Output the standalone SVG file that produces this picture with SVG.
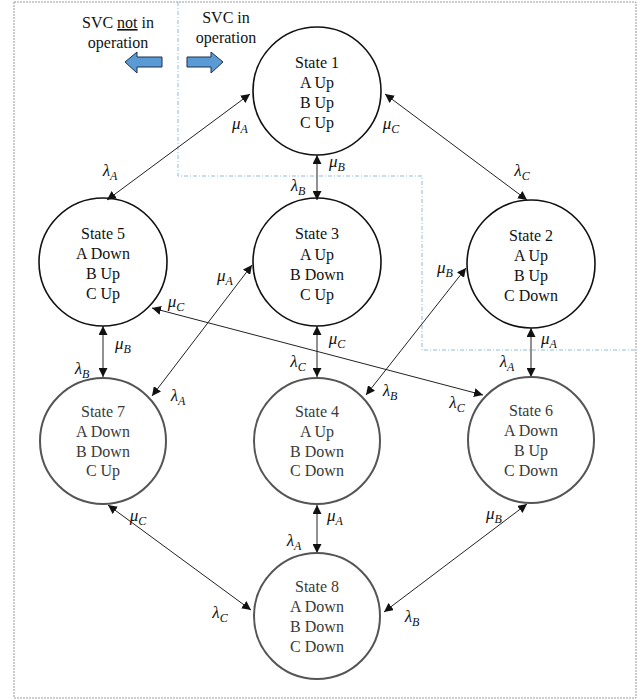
<svg xmlns="http://www.w3.org/2000/svg" width="644" height="700" viewBox="0 0 644 700">
<style>
.st{font-family:"Liberation Serif","Times New Roman",serif;font-size:16px;fill:#111;text-anchor:middle}
.lo{fill:#3a3a3a}
.c{fill:none;stroke:#111;stroke-width:1.6}
.cl{fill:none;stroke:#555;stroke-width:2}
.ln{stroke:#222;stroke-width:1;fill:none;marker-start:url(#ah);marker-end:url(#ah)}
.m{font-family:"Liberation Serif","DejaVu Serif",serif;font-style:italic;font-size:17px;fill:#111;text-anchor:middle}
.s{font-size:12px}
.hd{font-family:"Liberation Serif","Times New Roman",serif;font-size:16px;fill:#111;text-anchor:middle}
.blk{fill:#5B9BD5;stroke:#1f2f4f;stroke-width:1}
</style>
<defs>
<marker id="ah" viewBox="0 0 10 10" refX="10" refY="5" markerWidth="9" markerHeight="9" markerUnits="userSpaceOnUse" orient="auto-start-reverse">
<path d="M0,0 L10,5 L0,10 z" fill="#111"/>
</marker>
</defs>
<rect x="14" y="2" width="622" height="696" fill="none" stroke="#9a9a9a" stroke-width="1" stroke-dasharray="2 1"/>
<polyline points="178,2 178,176 422,176 422,350 636,350" fill="none" stroke="#8fbbe6" stroke-width="1" stroke-dasharray="4 2 1 2"/>
<g id="legend">
<text class="hd" x="118" y="28">SVC <tspan text-decoration="underline">not</tspan> in</text>
<text class="hd" x="118" y="48">operation</text>
<text class="hd" x="226" y="23">SVC in</text>
<text class="hd" x="226" y="43">operation</text>
<polygon class="blk" points="125,62 137,52 137,57 162,57 162,67 137,67 137,73"/>
<polygon class="blk" points="223,62 211,52 211,57 187,57 187,67 211,67 211,73"/>
</g>
<g id="connectors">
<line class="ln" x1="107" y1="200" x2="250" y2="94"/>
<line class="ln" x1="317" y1="200" x2="317" y2="155"/>
<line class="ln" x1="527" y1="200" x2="385" y2="94"/>
<line class="ln" x1="152" y1="396" x2="252" y2="265"/>
<line class="ln" x1="483" y1="395" x2="152" y2="308"/>
<line class="ln" x1="103" y1="377" x2="103" y2="326"/>
<line class="ln" x1="317" y1="377" x2="317" y2="326"/>
<line class="ln" x1="366" y1="395" x2="466" y2="268"/>
<line class="ln" x1="531" y1="377" x2="531" y2="328"/>
<line class="ln" x1="317" y1="553" x2="317" y2="505"/>
<line class="ln" x1="251" y1="610" x2="108" y2="505"/>
<line class="ln" x1="384" y1="612" x2="527" y2="504"/>
</g>
<g id="labels">
<text class="m" x="240" y="129">μ<tspan class="s" dy="4">A</tspan></text>
<text class="m" x="110" y="176">λ<tspan class="s" dy="4">A</tspan></text>
<text class="m" x="337" y="167">μ<tspan class="s" dy="4">B</tspan></text>
<text class="m" x="298" y="191">λ<tspan class="s" dy="4">B</tspan></text>
<text class="m" x="391" y="129">μ<tspan class="s" dy="4">C</tspan></text>
<text class="m" x="522" y="176">λ<tspan class="s" dy="4">C</tspan></text>
<text class="m" x="225" y="281">μ<tspan class="s" dy="4">A</tspan></text>
<text class="m" x="178" y="401">λ<tspan class="s" dy="4">A</tspan></text>
<text class="m" x="176" y="307">μ<tspan class="s" dy="4">C</tspan></text>
<text class="m" x="457" y="408">λ<tspan class="s" dy="4">C</tspan></text>
<text class="m" x="123" y="349">μ<tspan class="s" dy="4">B</tspan></text>
<text class="m" x="82" y="374">λ<tspan class="s" dy="4">B</tspan></text>
<text class="m" x="337" y="344">μ<tspan class="s" dy="4">C</tspan></text>
<text class="m" x="298" y="367">λ<tspan class="s" dy="4">C</tspan></text>
<text class="m" x="445" y="273">μ<tspan class="s" dy="4">B</tspan></text>
<text class="m" x="390" y="396">λ<tspan class="s" dy="4">B</tspan></text>
<text class="m" x="549" y="344">μ<tspan class="s" dy="4">A</tspan></text>
<text class="m" x="507" y="367">λ<tspan class="s" dy="4">A</tspan></text>
<text class="m" x="335" y="521" fill="#444">μ<tspan class="s" dy="4">A</tspan></text>
<text class="m" x="294" y="546" fill="#444">λ<tspan class="s" dy="4">A</tspan></text>
<text class="m" x="138" y="521" fill="#444">μ<tspan class="s" dy="4">C</tspan></text>
<text class="m" x="220" y="618" fill="#444">λ<tspan class="s" dy="4">C</tspan></text>
<text class="m" x="494" y="519" fill="#444">μ<tspan class="s" dy="4">B</tspan></text>
<text class="m" x="412" y="622" fill="#444">λ<tspan class="s" dy="4">B</tspan></text>
</g>
<g id="state1">
<circle class="c" cx="317" cy="91" r="64"/>
<text class="st" x="317" y="68">State 1</text>
<text class="st" x="317" y="88">A Up</text>
<text class="st" x="317" y="108">B Up</text>
<text class="st" x="317" y="128">C Up</text>
</g>
<g id="state5">
<circle class="c" cx="103" cy="262" r="64"/>
<text class="st" x="103" y="239">State 5</text>
<text class="st" x="103" y="259">A Down</text>
<text class="st" x="103" y="279">B Up</text>
<text class="st" x="103" y="299">C Up</text>
</g>
<g id="state3">
<circle class="c" cx="317" cy="262" r="64"/>
<text class="st" x="317" y="239">State 3</text>
<text class="st" x="317" y="260">A Up</text>
<text class="st" x="317" y="280">B Down</text>
<text class="st" x="317" y="300">C Up</text>
</g>
<g id="state2">
<circle class="c" cx="531" cy="264" r="64"/>
<text class="st" x="531" y="241">State 2</text>
<text class="st" x="531" y="261">A Up</text>
<text class="st" x="531" y="281">B Up</text>
<text class="st" x="531" y="301">C Down</text>
</g>
<g id="state7">
<circle class="cl" cx="103" cy="441" r="63"/>
<text class="st lo" x="103" y="417">State 7</text>
<text class="st lo" x="103" y="437">A Down</text>
<text class="st lo" x="103" y="457">B Down</text>
<text class="st lo" x="103" y="476">C Up</text>
</g>
<g id="state4">
<circle class="cl" cx="317" cy="441" r="63"/>
<text class="st lo" x="317" y="417">State 4</text>
<text class="st lo" x="317" y="437">A Up</text>
<text class="st lo" x="317" y="457">B Down</text>
<text class="st lo" x="317" y="476">C Down</text>
</g>
<g id="state6">
<circle class="cl" cx="531" cy="440" r="63"/>
<text class="st lo" x="531" y="416">State 6</text>
<text class="st lo" x="531" y="436">A Down</text>
<text class="st lo" x="531" y="456">B Up</text>
<text class="st lo" x="531" y="476">C Down</text>
</g>
<g id="state8">
<circle class="cl" cx="317" cy="616" r="63"/>
<text class="st lo" x="317" y="592">State 8</text>
<text class="st lo" x="317" y="612">A Down</text>
<text class="st lo" x="317" y="632">B Down</text>
<text class="st lo" x="317" y="652">C Down</text>
</g>
</svg>
